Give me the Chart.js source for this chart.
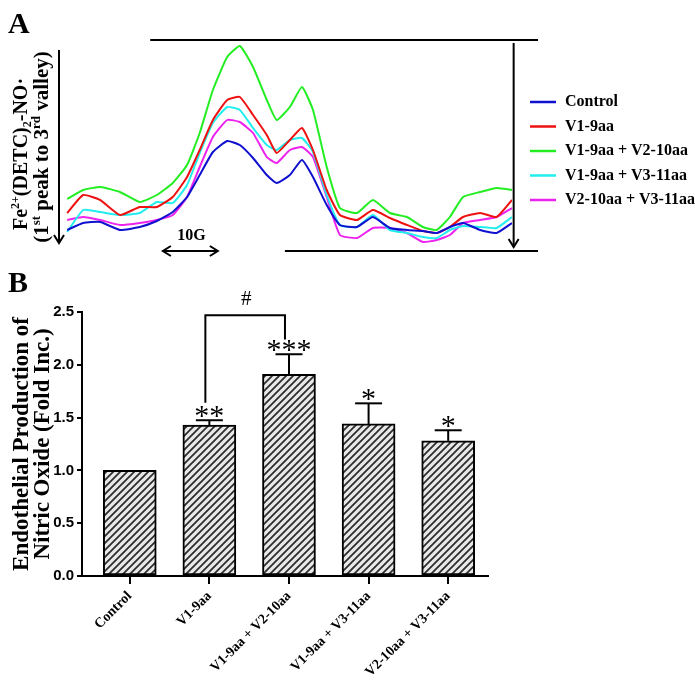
<!DOCTYPE html>
<html>
<head>
<meta charset="utf-8">
<script src="https://cdn.jsdelivr.net/npm/chart.js@4.4.0/dist/chart.umd.min.js"></script>
<style>
  html, body { margin: 0; padding: 0; background: #fff; }
  .panel { position: absolute; left: 0; }
</style>
</head>
<body>
<canvas id="panelA" class="panel" style="top:0" width="695" height="270"></canvas>
<canvas id="panelB" class="panel" style="top:270px" width="695" height="412"></canvas>
<script>
// ---- panel A: EPR spectra (field offset in G, signal in arbitrary units)
const field = [0.4, 3.3, 6.4, 10.0, 13.6, 16.7, 19.6, 22.2, 24.5, 26.9, 29.5, 31.8, 34.2, 36.7, 38.5, 40.9,
  43.1, 45.1, 47.6, 50.0, 53.1, 56.0, 59.1, 62.2, 65.1, 67.6, 70.0, 72.4, 75.5, 78.5, 81.3];
const control = [20, 27, 28, 20, 23, 29, 38, 53, 75, 98, 109, 105, 92, 75, 67, 75, 90, 73, 45, 25, 23, 33, 22, 20, 19, 17, 23, 27, 20, 17, 27];
const v19 = [37, 55, 50, 35, 43, 43, 53, 73, 100, 130, 150, 153, 135, 115, 97, 110, 122, 100, 60, 35, 30, 40, 32, 25, 19, 17, 23, 33, 37, 33, 50];
const v19v210 = [51, 60, 63, 58, 48, 55, 67, 85, 117, 160, 193, 204, 183, 150, 130, 143, 163, 140, 83, 42, 37, 50, 37, 33, 23, 20, 33, 53, 58, 62, 60];
const v19v311 = [18, 40, 38, 35, 37, 48, 47, 65, 97, 127, 143, 140, 122, 105, 100, 110, 112, 98, 55, 25, 23, 35, 20, 17, 13, 12, 20, 24, 23, 22, 33];
const v210v311 = [30, 33, 30, 25, 27, 30, 35, 53, 83, 113, 130, 128, 117, 93, 87, 100, 103, 93, 53, 15, 12, 22, 22, 17, 8, 10, 15, 27, 30, 33, 42];
const seriesNames = ['Control', 'V1-9aa', 'V1-9aa + V2-10aa', 'V1-9aa + V3-11aa', 'V2-10aa + V3-11aa'];
const seriesColors = ['#1010d0', '#ee1111', '#22ee22', '#22eeee', '#ee22ee'];

// ---- panel B: bar chart
const groups = ['Control', 'V1-9aa', 'V1-9aa + V2-10aa', 'V1-9aa + V3-11aa', 'V2-10aa + V3-11aa'];
const foldInc = [1.00, 1.43, 1.91, 1.44, 1.28];
const sem = [0, 0.045, 0.19, 0.195, 0.10];
const marks = ['', '**', '***', '*', '*'];

const SERIF = '"Liberation Serif", "Times New Roman", serif';
const SANS = '"Liberation Sans", Arial, sans-serif';

function seg(ctx, x1, y1, x2, y2) {
  ctx.beginPath(); ctx.moveTo(x1, y1); ctx.lineTo(x2, y2); ctx.stroke();
}
function head(ctx, x, y, dx, dy) {
  // open V arrowhead pointing along (dx, dy)
  const px = -dy, py = dx;
  ctx.beginPath();
  ctx.moveTo(x - dx * 8 + px * 5, y - dy * 8 + py * 5);
  ctx.lineTo(x, y);
  ctx.lineTo(x - dx * 8 - px * 5, y - dy * 8 - py * 5);
  ctx.stroke();
}
// text with super/subscripts, rotated -90deg, centred on cy, baseline at bx
function richVertical(ctx, parts, bx, cy, size) {
  const fonts = parts.map(p => 'bold ' + (p[1] ? Math.round(size * 0.62) : size) + 'px ' + SERIF);
  let total = 0;
  const w = parts.map((p, i) => { ctx.font = fonts[i]; const m = ctx.measureText(p[0]).width; total += m; return m; });
  ctx.save();
  ctx.translate(bx, cy);
  ctx.rotate(-Math.PI / 2);
  ctx.textBaseline = 'alphabetic';
  ctx.textAlign = 'left';
  let x = -total / 2;
  parts.forEach((p, i) => {
    ctx.font = fonts[i];
    const dy = p[1] === 1 ? -size * 0.4 : p[1] === -1 ? size * 0.22 : 0;
    ctx.fillText(p[0], x, dy);
    x += w[i];
  });
  ctx.restore();
}

const decoA = {
  id: 'decoA',
  afterDraw(chart) {
    const { ctx, scales: { x, y } } = chart;
    ctx.save();
    ctx.strokeStyle = '#000';
    ctx.fillStyle = '#000';
    ctx.lineWidth = 2;
    const top = y.getPixelForValue(210), base = y.getPixelForValue(0) + 1;
    seg(ctx, x.getPixelForValue(15.5), top, 538, top);
    seg(ctx, x.getPixelForValue(40), base, 538, base);
    // intensity arrows
    seg(ctx, 59, 50, 59, 243); head(ctx, 59, 243, 0, 1);
    const rx = x.getPixelForValue(81.6);
    seg(ctx, rx, 43, rx, 247); head(ctx, rx, 247, 0, 1);
    // 10 G scale arrow
    const g0 = x.getPixelForValue(17.8), g1 = x.getPixelForValue(27.8);
    seg(ctx, g0, base, g1, base);
    head(ctx, g0, base, -1, 0); head(ctx, g1, base, 1, 0);
    ctx.font = 'bold 16px ' + SERIF;
    ctx.textAlign = 'center';
    ctx.textBaseline = 'alphabetic';
    ctx.fillText('10G', (g0 + g1) / 2 + 1, 240);
    // panel letter
    ctx.font = 'bold 30px ' + SERIF;
    ctx.textAlign = 'left';
    ctx.fillText('A', 8, 33);
    // legend
    ctx.font = 'bold 16px ' + SERIF;
    ctx.textBaseline = 'middle';
    chart.data.datasets.forEach((ds, i) => {
      const ly = 102 + i * 24.5;
      ctx.strokeStyle = ds.borderColor;
      ctx.lineWidth = 2.5;
      seg(ctx, 530, ly, 556, ly);
      ctx.fillStyle = '#000';
      ctx.fillText(ds.label, 565, ly);
    });
    // axis label
    richVertical(ctx, [['Fe', 0], ['2+', 1], ['(DETC)', 0], ['2', -1], ['-NO·', 0]], 27, 154, 20);
    richVertical(ctx, [['(1', 0], ['st', 1], [' peak to 3', 0], ['rd', 1], [' valley)', 0]], 48, 147, 21);
    ctx.restore();
  }
};

const listA = [control, v19, v19v210, v19v311, v210v311];
new Chart(document.getElementById('panelA'), {
  type: 'line',
  data: {
    datasets: listA.map((vals, i) => ({
      label: seriesNames[i],
      data: field.map((f, j) => ({ x: f, y: vals[j] })),
      borderColor: seriesColors[i],
      borderWidth: 2,
      pointRadius: 0,
      tension: 0.15
    }))
  },
  options: {
    responsive: false,
    animation: false,
    events: [],
    layout: { padding: { left: 65, right: 183, top: 40, bottom: 20 } },
    plugins: { legend: { display: false }, tooltip: { enabled: false } },
    scales: {
      x: { type: 'linear', display: false, min: 0, max: 81.3 },
      y: { display: false, min: 0, max: 210 }
    }
  },
  plugins: [decoA]
});

// ---- panel B
const ctxB = document.getElementById('panelB').getContext('2d');
function hatch(ctx) {
  const c = document.createElement('canvas');
  c.width = 7; c.height = 7;
  const g = c.getContext('2d');
  g.fillStyle = '#e8e8e8';
  g.fillRect(0, 0, 7, 7);
  g.strokeStyle = '#2a2a2a';
  g.lineWidth = 1.7;
  g.beginPath();
  g.moveTo(-1, 8); g.lineTo(8, -1);
  g.moveTo(-1, 1); g.lineTo(1, -1);
  g.moveTo(6, 8); g.lineTo(8, 6);
  g.stroke();
  return ctx.createPattern(c, 'repeat');
}

const decoB = {
  id: 'decoB',
  afterDatasetsDraw(chart) {
    const { ctx, scales: { x, y } } = chart;
    ctx.save();
    ctx.strokeStyle = '#000';
    ctx.fillStyle = '#000';
    ctx.lineWidth = 2;
    foldInc.forEach((v, i) => {
      const cx = x.getPixelForValue(i + 1);
      const yTop = y.getPixelForValue(v + sem[i]);
      if (sem[i] > 0) {
        seg(ctx, cx, y.getPixelForValue(v), cx, yTop);
        seg(ctx, cx - 13.5, yTop, cx + 13.5, yTop);
      }
      if (marks[i]) {
        ctx.font = '30px ' + SERIF;
        ctx.textAlign = 'center';
        ctx.textBaseline = 'alphabetic';
        ctx.fillText(marks[i], cx, yTop + 5);
      }
    });
    // comparison bracket V1-9aa vs V1-9aa + V2-10aa
    const bl = x.getPixelForValue(2) - 4, br = x.getPixelForValue(3) - 4;
    const bt = y.getPixelForValue(2.47);
    ctx.beginPath();
    ctx.moveTo(bl, y.getPixelForValue(1.64));
    ctx.lineTo(bl, bt);
    ctx.lineTo(br, bt);
    ctx.lineTo(br, y.getPixelForValue(2.24));
    ctx.stroke();
    ctx.font = '21px ' + SERIF;
    ctx.textAlign = 'center';
    ctx.fillText('#', (bl + br) / 2 + 1, bt - 10);
    // panel letter
    ctx.font = 'bold 30px ' + SERIF;
    ctx.textAlign = 'left';
    ctx.fillText('B', 8, 22);
    ctx.restore();
  }
};

new Chart(ctxB, {
  type: 'bar',
  data: {
    datasets: [{
      data: groups.map((g, i) => ({ x: i + 1, y: foldInc[i] })),
      backgroundColor: hatch(ctxB),
      borderColor: '#000',
      borderWidth: 2,
      borderSkipped: false,
      barThickness: 53
    }]
  },
  options: {
    responsive: false,
    animation: false,
    events: [],
    layout: { padding: { left: 0, right: 207, top: 42, bottom: 0 } },
    plugins: { legend: { display: false }, tooltip: { enabled: false } },
    scales: {
      x: {
        type: 'linear',
        min: 0.4,
        max: 5.5,
        offset: false,
        afterBuildTicks: (axis) => { axis.ticks = groups.map((g, i) => ({ value: i + 1 })); },
        afterFit: (s) => { s.height = 106; },
        grid: { display: true, drawOnChartArea: false, drawTicks: true, tickLength: 8, color: '#000', lineWidth: 2, offset: false },
        border: { display: true, color: '#000', width: 2 },
        ticks: {
          autoSkip: false,
          maxRotation: 45,
          minRotation: 45,
          padding: 4,
          color: '#000',
          font: { family: SERIF, size: 14, weight: 'bold' },
          callback: (v) => groups[v - 1]
        }
      },
      y: {
        min: 0,
        max: 2.5,
        afterFit: (s) => { s.width = 82; },
        grid: { display: true, drawOnChartArea: false, drawTicks: true, tickLength: 5, color: '#000', lineWidth: 2 },
        border: { display: true, color: '#000', width: 2 },
        ticks: {
          stepSize: 0.5,
          padding: 3,
          color: '#000',
          font: { family: SANS, size: 15, weight: 'bold' },
          callback: (v) => v.toFixed(1)
        },
        title: {
          display: true,
          text: ['Endothelial Production of', 'Nitric Oxide (Fold Inc.)'],
          color: '#000',
          padding: { top: 11, bottom: 0 },
          font: { family: SERIF, size: 23, weight: 'bold', lineHeight: 0.92 }
        }
      }
    }
  },
  plugins: [decoB]
});
</script>
</body>
</html>
